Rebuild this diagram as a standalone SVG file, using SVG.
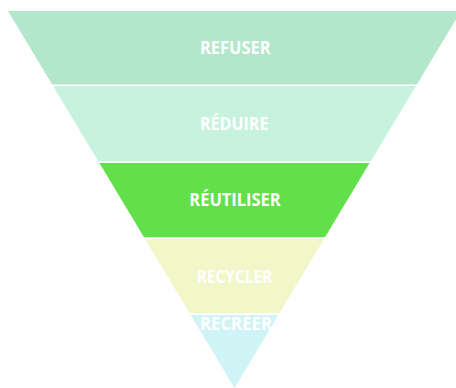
<svg xmlns="http://www.w3.org/2000/svg" width="456" height="388" viewBox="0 0 456 388">
<style>
.lbl{font-family:"Open Sans","Liberation Sans",sans-serif;font-weight:bold;font-size:18.5px;fill:#ffffff;text-anchor:middle}
</style>
<rect width="456" height="388" fill="#ffffff"/>
<g id="refuser">
<polygon points="8,11 461,11 416.8,84.5 52.2,84.5" fill="#B3E7CB"/>
<text class="lbl" x="235.3" y="54" textLength="70.7" lengthAdjust="spacingAndGlyphs">REFUSER</text>
</g>
<g id="reduire">
<polygon points="53.1,86 415.9,86 370.7,161.3 98.3,161.3" fill="#C7F2DE"/>
<text class="lbl" x="234.2" y="130" textLength="68.5" lengthAdjust="spacingAndGlyphs">RÉDUIRE</text>
</g>
<g id="reutiliser">
<polygon points="99.4,163 369.6,163 325,237.3 144,237.3" fill="#62E04A"/>
<text class="lbl" x="235" y="205.7" textLength="91.4" lengthAdjust="spacingAndGlyphs">RÉUTILISER</text>
</g>
<g id="recycler">
<polygon points="145,239 324,239 279.3,313.3 189.7,313.3" fill="#F2F7C9"/>
<text class="lbl" x="234.5" y="283" textLength="75.6" lengthAdjust="spacingAndGlyphs">RECYCLER</text>
</g>
<g id="recreer">
<polygon points="190.7,315 278.3,315 234.6,388" fill="#D0F3F5"/>
<text class="lbl" x="236" y="330.3" textLength="72" lengthAdjust="spacingAndGlyphs">RECRÉER</text>
</g>
<g id="connectors"></g>
</svg>
